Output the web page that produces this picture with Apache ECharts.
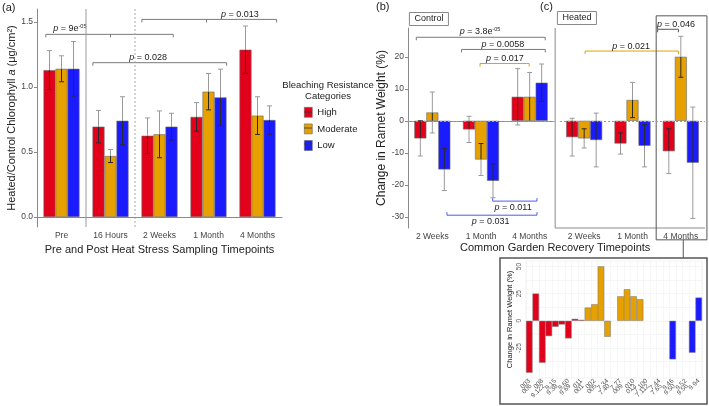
<!DOCTYPE html>
<html><head><meta charset="utf-8">
<script src="https://cdn.jsdelivr.net/npm/echarts@6/dist/echarts.min.js"></script>
<style>html,body{margin:0;padding:0;background:#fff}#c{width:709px;height:406px}</style>
</head><body><div id="c"></div>
<script>
// ---------- DATA ----------
// Panel (a): Heated/Control chlorophyll a
const chlCategories = ['Pre', '16 Hours', '2 Weeks', '1 Month', '4 Months'];
const chlHigh = [1.13, 0.695, 0.625, 0.77, 1.287];
const chlHighErr = [0.15, 0.125, 0.137, 0.11, 0.182];
const chlModerate = [1.14, 0.469, 0.636, 0.964, 0.78];
const chlModerateErr = [0.1, 0.05, 0.18, 0.14, 0.145];
const chlLow = [1.14, 0.74, 0.695, 0.92, 0.746];
const chlLowErr = [0.21, 0.185, 0.103, 0.217, 0.109];

// Panels (b) and (c): change in ramet weight (%)
const recoveryCategories = ['2 Weeks', '1 Month', '4 Months'];
const controlHigh = [-5.5, -2.7, 7.5];
const controlHighErr = [5.5, 4.1, 8.8];
const controlModerate = [2.6, -12.1, 7.5];
const controlModerateErr = [6.4, 5.0, 7.6];
const controlLow = [-15.2, -18.75, 11.9];
const controlLowErr = [6.6, 5.3, 5.85];

const heatedHigh = [-5.1, -7.1, -9.5];
const heatedHighErr = [5.9, 3.3, 7.0];
const heatedModerate = [-5.5, 6.5, 20.0];
const heatedModerateErr = [3.0, 5.5, 6.4];
const heatedLow = [-6.0, -7.8, -13.1];
const heatedLowErr = [8.4, 6.6, 17.4];

// Inset: heated, 4 months, per genotype
const insetCategories = ['003','006','008','9.122','9.15','9.38','9.60','9.69','011','001','002','005','7.34','7.40','7.77','009','010','013','7.100','7.112','7.44','7.65','9.46','9.50','9.52','9.56','9.94'];
const insetHigh = [-47.8, 25.1, -38.6, -14.1, -5.5, -3.4, -16.2, 1.8, 0.9, null, null, null, null, null, null, null, null, null, null, null, null, null, null, null, null, null, null];
const insetModerate = [null, null, null, null, null, null, null, null, null, 12.2, 15.3, 50.2, -14.7, null, 22.6, 29.1, 22.6, 19.9, null, null, null, null, null, null, null, null, null];
const insetLow = [null, null, null, null, null, null, null, null, null, null, null, null, null, null, null, null, null, null, null, null, null, null, -35.5, null, null, -29.4, 21.4];

const chlTicks = [0, 0.5, 1.0, 1.5];
const weightTicks = [-30, -20, -10, 0, 10, 20];
const insetTicks = [-25, 0, 25, 50];

// ---------- STYLE ----------
const FONT = 'Liberation Sans';
const COLORS = { High: '#e3001b', Moderate: '#e6a000', Low: '#1b1bff' };
const BW = 12;
const DARK = '#2a2a2a', GREY = '#9a9a9a';
const AXIS = '#8a8a8a', LABEL = '#444';

const chart = echarts.init(document.getElementById('c'));

function barSeries(g, vals, name, extra) {
  return Object.assign({
    type: 'bar', name, xAxisIndex: g, yAxisIndex: g, data: vals,
    barWidth: BW, barGap: '0%', silent: true,
    itemStyle: { color: COLORS[name], borderColor: '#6a6a6a', borderWidth: 0.6 }
  }, extra || {});
}
function errSeries(g, vals, errs, off) {
  return {
    type: 'custom', xAxisIndex: g, yAxisIndex: g, z: 5, silent: true,
    data: vals.map((v, i) => [i, v, errs[i]]),
    encode: { x: 0, y: 1 },
    renderItem: function (params, api) {
      const i = api.value(0), m = api.value(1), e = api.value(2);
      const cx = api.coord([i, 0])[0] + off * BW;
      const lo = m - e, hi = m + e;
      const bmin = Math.min(0, m), bmax = Math.max(0, m);
      const Y = v => api.coord([i, v])[1];
      const ch = [];
      const seg = (a, b, c) => ch.push({ type: 'line', shape: { x1: cx, y1: Y(a), x2: cx, y2: Y(b) }, style: { stroke: c, lineWidth: 1 } });
      const cap = (v, c) => ch.push({ type: 'line', shape: { x1: cx - 2.5, y1: Y(v), x2: cx + 2.5, y2: Y(v) }, style: { stroke: c, lineWidth: 1 } });
      const inLo = Math.max(lo, bmin), inHi = Math.min(hi, bmax);
      if (inHi > inLo) seg(inLo, inHi, DARK);
      if (lo < bmin) seg(lo, Math.min(bmin, hi), GREY);
      if (hi > bmax) seg(Math.max(bmax, lo), hi, GREY);
      cap(lo, (lo >= bmin && lo <= bmax) ? DARK : GREY);
      cap(hi, (hi >= bmin && hi <= bmax) ? DARK : GREY);
      return { type: 'group', children: ch };
    }
  };
}
const zeroLine = {
  silent: true, symbol: ['none', 'none'], label: { show: false },
  lineStyle: { type: [2, 2], color: '#9a9a9a', width: 1 }, data: [{ yAxis: 0 }]
};

function catAxis(g, data, extra) {
  return Object.assign({
    type: 'category', gridIndex: g, data,
    axisLine: { lineStyle: { color: AXIS, width: 1 } },
    axisTick: { alignWithLabel: true, length: 3, lineStyle: { color: AXIS } },
    axisLabel: { fontFamily: FONT, fontSize: 8.5, color: LABEL, margin: 4 },
    splitLine: { show: false }
  }, extra || {});
}

const option = {
  animation: false,
  textStyle: { fontFamily: FONT },
  grid: [
    { left: 37, top: 9, width: 245, height: 218 },
    { left: 408, top: 28, width: 146, height: 200 },
    { left: 560, top: 28, width: 145, height: 200 },
    { left: 526, top: 261, width: 176, height: 117, show: true, borderColor: '#e6e6e6', borderWidth: 0.5 }
  ],
  legend: {
    data: ['High', 'Moderate', 'Low'], orient: 'vertical', left: 304, top: 107, padding: 0,
    icon: 'rect', itemWidth: 8, itemHeight: 10, itemGap: 6, itemStyle: { borderColor: '#6a6a6a', borderWidth: 0.6 },
    textStyle: { fontFamily: FONT, fontSize: 9.5, color: '#222' },
    selectedMode: false
  },
  xAxis: [
    catAxis(0, chlCategories, {
      name: 'Pre and Post Heat Stress Sampling Timepoints', nameLocation: 'middle', nameGap: 17,
      nameTextStyle: { fontFamily: FONT, fontSize: 11, color: '#222' }
    }),
    catAxis(1, recoveryCategories),
    catAxis(2, recoveryCategories, { axisLine: { show: false } }),
    {
      type: 'category', gridIndex: 3, data: insetCategories,
      axisLine: { show: false }, axisTick: { show: false },
      splitLine: { show: true, lineStyle: { color: '#efefef', width: 0.5 } },
      axisLabel: {
        interval: 0, rotate: 45, fontFamily: FONT, fontSize: 6.5, color: '#555', margin: 2,
        formatter: (v, i) => (i % 2 ? v + '\u00a0\u00a0\u00a0\u00a0' : v)
      }
    }
  ],
  yAxis: [
    {
      type: 'value', gridIndex: 0, min: -0.077, max: 1.6,
      axisLine: { show: true, lineStyle: { color: AXIS } },
      axisTick: { show: true, length: 3, customValues: chlTicks, lineStyle: { color: AXIS } },
      axisLabel: { customValues: chlTicks, formatter: v => v.toFixed(1), fontFamily: FONT, fontSize: 8.5, color: LABEL, margin: 4 },
      splitLine: { show: false },
      name: '{n|Heated/Control Chlorophyll }{i|a}{n| (μg/cm²)}', nameLocation: 'middle', nameGap: 19, nameRotate: 90,
      nameTextStyle: {
        rich: {
          n: { fontFamily: FONT, fontSize: 11, color: '#222' },
          i: { fontFamily: FONT, fontSize: 11, color: '#222', fontStyle: 'italic' }
        }
      }
    },
    {
      type: 'value', gridIndex: 1, min: -33.5, max: 29,
      axisLine: { show: true, lineStyle: { color: AXIS } },
      axisTick: { show: true, length: 3, customValues: weightTicks, lineStyle: { color: AXIS } },
      axisLabel: { customValues: weightTicks, fontFamily: FONT, fontSize: 8.5, color: LABEL, margin: 4 },
      splitLine: { show: false },
      name: 'Change in Ramet Weight (%)', nameLocation: 'middle', nameGap: 20, nameRotate: 90,
      nameTextStyle: { fontFamily: FONT, fontSize: 12, color: '#222' }
    },
    { type: 'value', gridIndex: 2, min: -33.5, max: 29, show: false, splitLine: { show: false } },
    {
      type: 'value', gridIndex: 3, min: -52.7, max: 55.1,
      axisLine: { show: false },
      axisTick: { show: false, customValues: [-37.5, -25, -12.5, 0, 12.5, 25, 37.5, 50] },
      axisLabel: { customValues: insetTicks, rotate: 90, fontFamily: FONT, fontSize: 6.5, color: '#555', margin: 3 },
      splitLine: { show: true, lineStyle: { color: '#ececec', width: 0.5 } },
      name: 'Change in Ramet Weight (%)', nameLocation: 'middle', nameGap: 12, nameRotate: 90,
      nameTextStyle: { fontFamily: FONT, fontSize: 7.5, color: '#222' }
    }
  ],
  series: [
    barSeries(0, chlHigh, 'High'), barSeries(0, chlModerate, 'Moderate'), barSeries(0, chlLow, 'Low'),
    errSeries(0, chlHigh, chlHighErr, -1), errSeries(0, chlModerate, chlModerateErr, 0), errSeries(0, chlLow, chlLowErr, 1),

    barSeries(1, controlHigh, 'High', { markLine: zeroLine }), barSeries(1, controlModerate, 'Moderate'), barSeries(1, controlLow, 'Low'),
    errSeries(1, controlHigh, controlHighErr, -1), errSeries(1, controlModerate, controlModerateErr, 0), errSeries(1, controlLow, controlLowErr, 1),

    barSeries(2, heatedHigh, 'High', { markLine: zeroLine }), barSeries(2, heatedModerate, 'Moderate'), barSeries(2, heatedLow, 'Low'),
    errSeries(2, heatedHigh, heatedHighErr, -1), errSeries(2, heatedModerate, heatedModerateErr, 0), errSeries(2, heatedLow, heatedLowErr, 1),

    barSeries(3, insetHigh, 'High', { barWidth: undefined, barGap: '-100%', barCategoryGap: '0%', itemStyle: { color: COLORS.High, borderColor: '#777', borderWidth: 0.5 } }),
    barSeries(3, insetModerate, 'Moderate', { barWidth: undefined, barGap: '-100%', barCategoryGap: '0%', itemStyle: { color: COLORS.Moderate, borderColor: '#777', borderWidth: 0.5 } }),
    barSeries(3, insetLow, 'Low', { barWidth: undefined, barGap: '-100%', barCategoryGap: '0%', itemStyle: { color: COLORS.Low, borderColor: '#777', borderWidth: 0.5 } })
  ]
};
chart.setOption(option);

// ---------- ANNOTATIONS (positioned through the axes) ----------
function px(g, u) {
  const p0 = chart.convertToPixel({ xAxisIndex: g }, 0);
  const p1 = chart.convertToPixel({ xAxisIndex: g }, 1);
  return p0 + u * (p1 - p0);
}
function py(g, v) { return chart.convertToPixel({ yAxisIndex: g }, v); }

const pRich = {
  n: { fontFamily: FONT, fontSize: 9, fill: '#222', color: '#222' },
  i: { fontFamily: FONT, fontSize: 9, fontStyle: 'italic', fill: '#222', color: '#222' },
  s: { fontFamily: FONT, fontSize: 5.5, fill: '#222', color: '#222', verticalAlign: 'top', lineHeight: 10 }
};
const brackets = [
  { g: 0, x1: -0.32, x2: 2.28, mids: [1.0], y: 1.405, dir: 1, color: '#7a7a7a', text: '{i|p}{n| = 9e}{s|-05}', lx: 0.17 },
  { g: 0, x1: 1.64, x2: 4.39, mids: [2.96], y: 1.52, dir: 1, color: '#7a7a7a', text: '{i|p}{n| = 0.013}', lx: 3.64 },
  { g: 0, x1: 0.64, x2: 3.37, mids: [], y: 1.187, dir: 1, color: '#7a7a7a', text: '{i|p}{n| = 0.028}', lx: 1.77 },
  { g: 1, x1: -0.33, x2: 2.32, mids: [], y: 26.1, dir: 1, color: '#7a7a7a', text: '{i|p}{n| = 3.8e}{s|-05}', lx: 0.98 },
  { g: 1, x1: 0.60, x2: 2.32, mids: [], y: 22.3, dir: 1, color: '#7a7a7a', text: '{i|p}{n| = 0.0058}', lx: 1.45 },
  { g: 1, x1: 0.98, x2: 1.99, mids: [], y: 17.9, dir: 1, color: '#e6a000', text: '{i|p}{n| = 0.017}', lx: 1.49 },
  { g: 1, x1: 1.24, x2: 2.15, mids: [], y: -25.1, dir: -1, color: '#4a5cf0', text: '{i|p}{n| = 0.011}', lx: 1.66 },
  { g: 1, x1: 0.30, x2: 2.15, mids: [], y: -29.5, dir: -1, color: '#4a5cf0', text: '{i|p}{n| = 0.031}', lx: 1.2 },
  { g: 2, x1: 0.02, x2: 1.95, mids: [], y: 21.8, dir: 1, color: '#e6a000', text: '{i|p}{n| = 0.021}', lx: 0.97 },
  { g: 2, x1: 1.52, x2: 1.95, mids: [], y: 28.6, dir: 1, color: '#555', text: '{i|p}{n| = 0.046}', lx: 1.9 }
];

const graphics = [];
const T = 3;
brackets.forEach(b => {
  const x1 = px(b.g, b.x1), x2 = px(b.g, b.x2), y = py(b.g, b.y);
  graphics.push({ type: 'polyline', silent: true, shape: { points: [[x1, y + T * b.dir], [x1, y], [x2, y], [x2, y + T * b.dir]] }, style: { stroke: b.color, lineWidth: 1, fill: null } });
  b.mids.forEach(m => graphics.push({ type: 'line', silent: true, shape: { x1: px(b.g, m), y1: y, x2: px(b.g, m), y2: y + T * b.dir }, style: { stroke: b.color, lineWidth: 1 } }));
  graphics.push({
    type: 'text', silent: true,
    style: { text: b.text, rich: pRich, x: px(b.g, b.lx), y: b.dir > 0 ? y - 0.5 : y + 1.5, align: 'center', verticalAlign: b.dir > 0 ? 'bottom' : 'top' }
  });
});

// vertical separators in (a)
const aTop = py(0, 1.6), aBot = py(0, -0.077);
graphics.push({ type: 'line', silent: true, shape: { x1: px(0, 0.5), y1: aTop, x2: px(0, 0.5), y2: aBot }, style: { stroke: '#9a9a9a', lineWidth: 1 } });
graphics.push({ type: 'line', silent: true, shape: { x1: px(0, 1.5), y1: aTop, x2: px(0, 1.5), y2: aBot }, style: { stroke: '#aaaaaa', lineWidth: 1, lineDash: [2, 2] } });

// divider between (b) and (c), and (c) baseline
const divX = px(2, -0.6), bTop = py(1, 29), bBot = py(1, -33.5);
graphics.push({ type: 'line', silent: true, shape: { x1: divX, y1: bTop, x2: divX, y2: bBot }, style: { stroke: AXIS, lineWidth: 1 } });
graphics.push({ type: 'line', silent: true, shape: { x1: divX, y1: bBot, x2: px(2, 2.5), y2: bBot }, style: { stroke: AXIS, lineWidth: 1 } });

// highlight box around 4 Months (heated) and connector to inset
const hx1 = px(2, 1.49), hx2 = px(2, 2.54), hy1 = py(2, 32.8), hy2 = py(2, -37.2);
graphics.push({ type: 'rect', silent: true, shape: { x: hx1, y: hy1, width: hx2 - hx1, height: hy2 - hy1 }, style: { stroke: '#555', lineWidth: 1, fill: null } });
const insetBox = { x: 500, y: 258, w: 207, h: 146 };
graphics.push({ type: 'line', silent: true, shape: { x1: px(2, 2.05), y1: hy2, x2: px(2, 2.05), y2: insetBox.y }, style: { stroke: '#555', lineWidth: 1 } });
graphics.push({ type: 'rect', silent: true, shape: { x: insetBox.x, y: insetBox.y, width: insetBox.w, height: insetBox.h }, style: { stroke: '#555', lineWidth: 1.5, fill: null } });

// facet strips
graphics.push({ type: 'text', silent: true, style: { text: 'Control', x: px(1, -0.07), y: 19, align: 'center', verticalAlign: 'middle', fontFamily: FONT, fontSize: 9, fill: '#222', borderColor: '#888', borderWidth: 1, padding: [2, 5, 2, 5] } });
graphics.push({ type: 'text', silent: true, style: { text: 'Heated', x: px(2, -0.15), y: 18, align: 'center', verticalAlign: 'middle', fontFamily: FONT, fontSize: 9, fill: '#222', borderColor: '#888', borderWidth: 1, padding: [2, 5, 2, 5] } });

// panel letters and shared x title
graphics.push({ type: 'text', silent: true, style: { text: '(a)', x: 2, y: 2, fontFamily: FONT, fontSize: 11, fill: '#222' } });
graphics.push({ type: 'text', silent: true, style: { text: '(b)', x: 376, y: 1, fontFamily: FONT, fontSize: 11, fill: '#222' } });
graphics.push({ type: 'text', silent: true, style: { text: '(c)', x: 540, y: 1, fontFamily: FONT, fontSize: 11, fill: '#222' } });
graphics.push({ type: 'text', silent: true, style: { text: 'Common Garden Recovery Timepoints', x: divX, y: 248, align: 'center', verticalAlign: 'middle', fontFamily: FONT, fontSize: 11, fill: '#222' } });

// legend title and key lines
graphics.push({ type: 'text', silent: true, style: { text: 'Bleaching Resistance\nCategories', x: 328, y: 80, align: 'center', verticalAlign: 'top', lineHeight: 11, fontFamily: FONT, fontSize: 9.5, fill: '#222' } });
[112, 128, 144].forEach(yy => graphics.push({ type: 'line', silent: true, z: 100, shape: { x1: 304, y1: yy, x2: 312, y2: yy }, style: { stroke: '#333', lineWidth: 0.8 } }));

chart.setOption({ graphic: graphics });
</script>
</body></html>
